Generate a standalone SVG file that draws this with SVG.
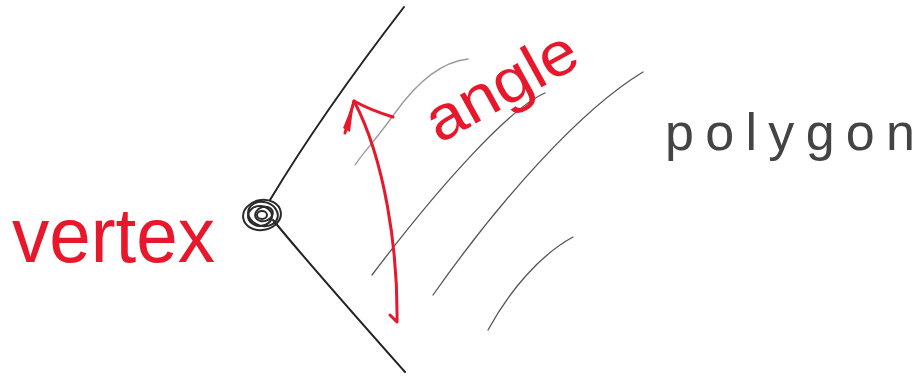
<svg xmlns="http://www.w3.org/2000/svg" width="919" height="377" viewBox="0 0 919 377">
<style>
.edge{fill:none;stroke:#222;stroke-width:2;stroke-linecap:round}
.hatch{fill:none;stroke:#555;stroke-width:1.3;stroke-linecap:round}
.red{fill:none;stroke:#e8182c;stroke-width:3;stroke-linecap:round;stroke-linejoin:round}
.lbl{font-family:"Liberation Sans",Arial,sans-serif}
</style>
<rect width="919" height="377" fill="#fff"/>
<g id="connectors">
<path class="edge" d="M270,200 C300,150 340,90 404,7"/>
<path class="edge" d="M273,220 C310,265 350,310 405,372"/>
<path class="hatch" d="M468,59 C440,62 415,85 395,113 S365,150 355,165" stroke-opacity="0.6"/>
<path class="hatch" d="M545,93 C510,108 440,185 372,275"/>
<path class="hatch" d="M643,72 C580,110 500,200 433,295"/>
<path class="hatch" d="M573,237 C540,255 510,290 488,330"/>
<path class="red" d="M390,315 L397,322 C398,250 385,160 354,101"/>
<path class="red" d="M345,133 L354,101 Q370,110 393,117"/>
<path d="M343,128 L354,101 L350,132 Z" fill="#e8182c"/>
</g>
<g id="vertex-point" fill="none" stroke="#2a2a2a" stroke-width="2">
<ellipse cx="262" cy="215" rx="19" ry="15" transform="rotate(-10 262 215)"/>
<ellipse cx="263" cy="214" rx="15" ry="12" transform="rotate(15 263 214)"/>
<ellipse cx="260" cy="216" rx="12" ry="10"/>
<ellipse cx="264" cy="214" rx="9" ry="7" transform="rotate(-20 264 214)"/>
<ellipse cx="262" cy="215" rx="5" ry="4"/>
</g>
<g id="vertex-label">
<text class="lbl" x="12" y="262" font-size="78" fill="#e8182c" textLength="203" lengthAdjust="spacingAndGlyphs">vertex</text>
</g>
<g id="angle-label">
<text class="lbl" x="0" y="0" font-size="62" fill="#e8182c" textLength="165" lengthAdjust="spacingAndGlyphs" transform="translate(439,144) rotate(-29)">angle</text>
</g>
<g id="polygon-label">
<text class="lbl" x="665" y="150" font-size="52" fill="#444" textLength="250" lengthAdjust="spacing">polygon</text>
</g>
</svg>
